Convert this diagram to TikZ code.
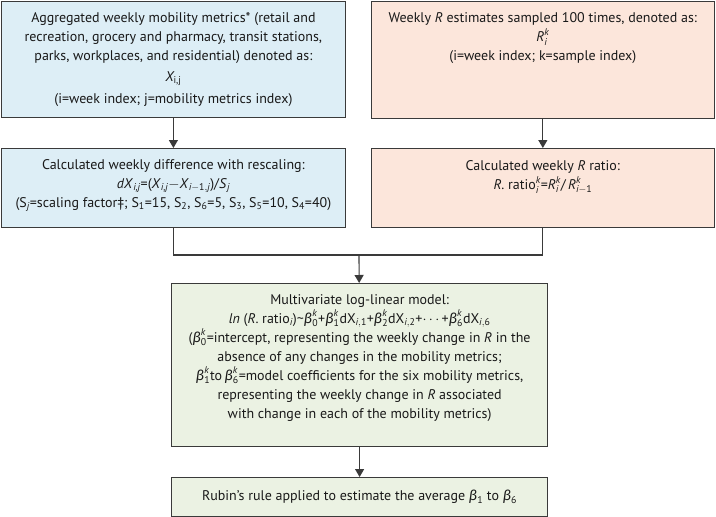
\documentclass[tikz,border=0pt]{standalone}
\usepackage{amsmath}
\usepackage{fontspec}
\setmainfont{PT Sans}
\newfontfamily\grkfont{Fira Sans}
\usepackage{tikz}
\usetikzlibrary{arrows.meta,positioning}
\definecolor{mobfill}{HTML}{DDEEF6}
\definecolor{rfill}{HTML}{FCE6DB}
\definecolor{modfill}{HTML}{EBF2E3}
\definecolor{edge}{HTML}{3A3A3A}
\tikzstyle{box} = [draw=edge, line width=1.2pt, rectangle, inner sep=0pt, anchor=north west]
\tikzstyle{txt} = [align=center, inner sep=0pt, text=black!90, font=\fontsize{14}{19}\selectfont]
\tikzstyle{link} = [draw=edge, line width=1.1pt]
\newcommand{\mi}[1]{\textit{#1}}
\newcommand{\bt}{{\grkfont\itshape β}}
\newcommand{\bb}[2]{\ensuremath{\text{\bt}^{\text{\itshape #2}}_{\text{#1}}}}

\begin{document}
\begin{tikzpicture}[>={Triangle[width=9pt,length=8pt]}, x=1pt, y=-1pt]
\useasboundingbox (0,0) rectangle (716,517);

% boxes
\node[box, fill=mobfill, minimum width=344pt, minimum height=116pt] (mob) at (0.8,0.8) {};
\node[box, fill=rfill, minimum width=342.5pt, minimum height=117pt] (rest) at (371,0.8) {};
\node[box, fill=mobfill, minimum width=344pt, minimum height=79pt] (diff) at (0.8,148) {};
\node[box, fill=rfill, minimum width=342.5pt, minimum height=79pt] (ratio) at (371,148) {};
\node[box, fill=modfill, minimum width=376pt, minimum height=163pt] (model) at (171,283) {};
\node[box, fill=modfill, minimum width=376pt, minimum height=38.5pt] (rubin) at (171,477) {};

% texts
\node[txt, below=11pt of mob.north] (mobtext) {Aggregated weekly mobility metrics* (retail and\\
  recreation, grocery and pharmacy, transit stations,\\
  parks, workplaces, and residential) denoted as:\\[2pt]
  $\mi{X}_{\text{i,j}}$\\[3pt]
  (i=week index; j=mobility metrics index)};
\node[txt, below=12pt of rest.north] (resttext) {Weekly \mi{R} estimates sampled 100 times, denoted as:\\
  $\mi{R}^{\mi{k}}_{\mi{i}}$\\
  (i=week index; k=sample index)};
\node[txt, below=11pt of diff.north] (difftext) {Calculated weekly difference with rescaling:\\
  \mi{dX}$_{\mi{i,j}}$=(\mi{X}$_{\mi{i,j}}$$-$\mi{X}$_{\mi{i}-\text{1},\mi{j}}$)/\mi{S}$_{\mi{j}}$\\
  (S$_{\mi{j}}$=scaling factor\ddag; S$_{\text{1}}$=15, S$_{\text{2}}$, S$_{\text{6}}$=5, S$_{\text{3}}$, S$_{\text{5}}$=10, S$_{\text{4}}$=40)};
\node[txt, below=12pt of ratio.north] (ratiotext) {Calculated weekly \mi{R} ratio:\\
  \mi{R}. ratio$^{\mi{k}}_{\mi{i}}$=$\mi{R}^{\mi{k}}_{\mi{i}}$/\,$\mi{R}^{\mi{k}}_{\mi{i}-\text{1}}$};
\node[txt, below=11pt of model.north] (modeltext) {Multivariate log-linear model:\\
  \mi{ln} (\mi{R}. ratio$_{\mi{i}}$)\textasciitilde\bb{0}{k}+\bb{1}{k}dX$_{\mi{i},\text{1}}$+\bb{2}{k}dX$_{\mi{i},\text{2}}$+$\cdots$+\bb{6}{k}dX$_{\mi{i},\text{6}}$\\
  (\bb{0}{k}=intercept, representing the weekly change in \mi{R} in the\\
  absence of any changes in the mobility metrics;\\
  \bb{1}{k}to\,\bb{6}{k}=model coefficients for the six mobility metrics,\\
  representing the weekly change in \mi{R} associated\\
  with change in each of the mobility metrics)};
\node[txt] (rubintext) at (rubin.center) {Rubin’s rule applied to estimate the average \bb{1}{} to \bb{6}{}};

% connectors
\coordinate (join) at (359,255);
\draw[link, ->] (mob) -- (diff);
\draw[link, ->] (rest) -- (ratio);
\draw[link] (diff.south) |- (join) -| (ratio.south);
\draw[link, ->] (join) -- (model);
\draw[link, ->] (model) -- (rubin);

\end{tikzpicture}
\end{document}
